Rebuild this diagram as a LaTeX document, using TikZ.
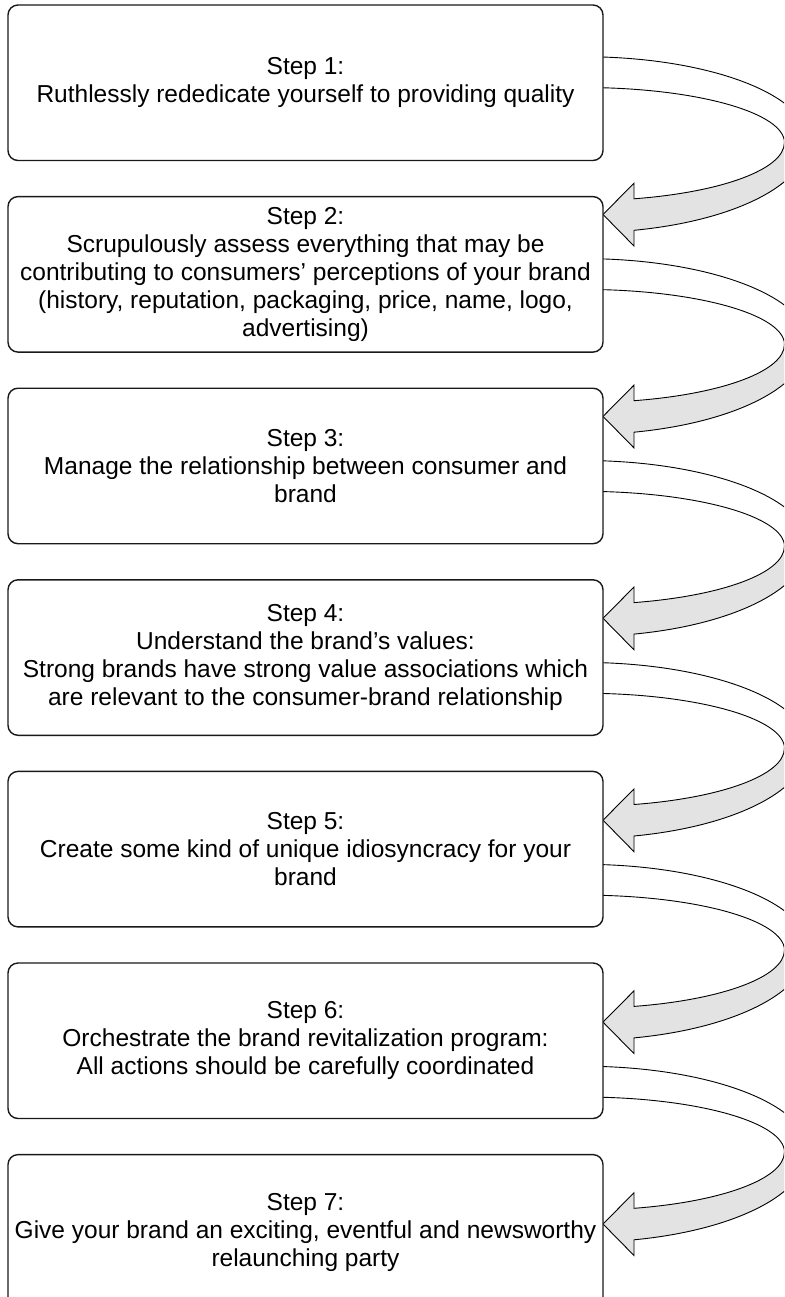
\documentclass[tikz,border=0pt]{standalone}
\usepackage{fontspec}
\setmainfont{Liberation Sans}
\usetikzlibrary{positioning}
\definecolor{flechagris}{HTML}{E3E3E3}
\tikzset{
	paso/.style={draw=black!90, line width=1.4pt, rounded corners=10pt, fill=white,
		minimum width=595pt, minimum height=155.5pt, inner sep=0pt, align=center,
		font=\fontsize{24.5}{28}\selectfont},
	flecha/.style={draw=black, line width=0.9pt}
}
\begin{document}
\begin{tikzpicture}[x=1pt, y=1pt, node distance=34.7pt]
	\useasboundingbox (0,0) rectangle (784,-1297);
	\clip (0,0) rectangle (784,-1297);
	
	% Bucle para las flechas curvas entre pasos
	\foreach \i in {0,...,5} {
		\begin{scope}[yshift={-56.7pt-201.9pt*\i}]
			\draw[flecha, fill=white] (583,-84) ++(88:225 and 84)
				arc[start angle=88, end angle=0, x radius=225, y radius=84]
				-- (784.5,-86)
				arc[start angle=0, end angle=88, x radius=201.5, y radius=55.2] -- cycle;
			\draw[flecha, fill=flechagris] (583,-84) ++(0:225 and 92)
				arc[start angle=0, end angle=-76.9, x radius=225, y radius=92]
				-- (634,-189.3) -- (603,-157.8) -- (634,-126.5) -- (634,-142.1)
				arc[start angle=-75.3, end angle=0, x radius=201.5, y radius=58] -- cycle;
		\end{scope}
	}
	
	\node[paso] (paso1) at (305.5,-82.75) {Step 1:\\Ruthlessly rededicate yourself to providing quality};
	\node[paso, below=of paso1] (paso2) {Step 2:\\Scrupulously assess everything that may be\\contributing to consumers’ perceptions of your brand\\(history, reputation, packaging, price, name, logo,\\advertising)};
	\node[paso, below=of paso2] (paso3) {Step 3:\\Manage the relationship between consumer and\\brand};
	\node[paso, below=of paso3] (paso4) {Step 4:\\Understand the brand’s values:\\Strong brands have strong value associations which\\are relevant to the consumer-brand relationship};
	\node[paso, below=of paso4] (paso5) {Step 5:\\Create some kind of unique idiosyncracy for your\\brand};
	\node[paso, below=of paso5] (paso6) {Step 6:\\Orchestrate the brand revitalization program:\\All actions should be carefully coordinated};
	\node[paso, below=of paso6] (paso7) {Step 7:\\Give your brand an exciting, eventful and newsworthy\\relaunching party};
\end{tikzpicture}
\end{document}
